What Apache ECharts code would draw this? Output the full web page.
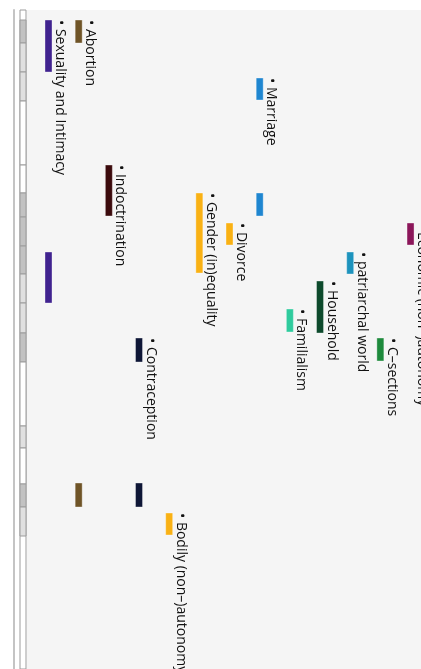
<!DOCTYPE html>
<html>
<head>
<meta charset="utf-8">
<script src="https://cdn.jsdelivr.net/npm/echarts@6/dist/echarts.min.js"></script>
<style>
  html, body { margin: 0; padding: 0; background: #fff; }
  #chart { width: 421px; height: 669px; }
</style>
</head>
<body>
<div id="chart"></div>
<script>
// codes, one lane each (left to right)
const codes = [
  "Sexuality and Intimacy",
  "Abortion",
  "Indoctrination",
  "Contraception",
  "Bodily (non–)autonomy",
  "Gender (in)equality",
  "Divorce",
  "Marriage",
  "Familialism",
  "Household",
  "patriarchal world",
  "C–sections",
  "Economic (non–)autonomy",
];
const codeColors = [
  "#40238f", "#6f5427", "#3b0a0c", "#0e1636", "#f9b114", "#f9b114",
  "#f9b114", "#1f86d0", "#2fcb9d", "#0d4a2c", "#1d93bd", "#1e8a3c", "#8b165a",
];
// coded passages: [lane, start, end] in document position
const passages = [
  [0, 10, 62], [0, 242, 293],
  [1, 10, 33], [1, 473, 497],
  [2, 155, 206],
  [3, 328, 352], [3, 473, 497],
  [4, 503, 525],
  [5, 183, 263],
  [6, 213, 235],
  [7, 68, 90], [7, 183, 206],
  [8, 299, 322],
  [9, 271, 323],
  [10, 242, 264],
  [11, 328, 351],
  [12, 213, 235],
];
// document overview strip: [start, end, shade level]
const segments = [
  [10, 33, 2], [33, 62, 1], [62, 91, 1], [91, 155, 0], [155, 183, 0],
  [183, 207, 2], [207, 236, 2], [236, 264, 2], [264, 293, 1], [293, 323, 1],
  [323, 352, 2], [352, 416, 0], [416, 438, 1], [438, 474, 0], [474, 497, 2],
  [497, 526, 1],
];
const shadeColors = ["#ffffff", "#e0e0e0", "#c2c2c2"];
const docLength = 659;

const chart = echarts.init(document.getElementById("chart"));

// first passage of each code gets the label
const labelled = new Set();
const barData = passages.map((p) => {
  const first = !labelled.has(p[0]);
  labelled.add(p[0]);
  return [p[0], p[1], p[2], first ? 1 : 0];
});

function renderPassage(params, api) {
  const lane = api.value(0);
  const top = api.coord([lane, api.value(1)]);
  const bottom = api.coord([lane, api.value(2)]);
  const w = 7;
  const children = [
    {
      type: "rect",
      shape: { x: top[0] - w / 2, y: top[1], width: w, height: bottom[1] - top[1] },
      style: { fill: codeColors[lane], stroke: "rgba(255,255,255,0.35)", lineWidth: 1 },
    },
  ];
  if (api.value(3)) {
    children.push({
      type: "text",
      x: top[0] + 11.5,
      y: top[1],
      rotation: -Math.PI / 2,
      style: {
        text: "• " + codes[lane],
        fill: "#111",
        font: '14px "Open Sans"',
        align: "left",
        verticalAlign: "middle",
      },
    });
  }
  return { type: "group", children };
}

function renderSegment(params, api) {
  const a = api.coord([0, api.value(0)]);
  const b = api.coord([1, api.value(1)]);
  return {
    type: "rect",
    shape: { x: a[0], y: a[1], width: b[0] - a[0], height: b[1] - a[1] },
    style: { fill: shadeColors[api.value(2)], stroke: "#9c9c9c", lineWidth: 1 },
  };
}

chart.setOption({
  animation: false,
  backgroundColor: "#fff",
  grid: [
    { left: 27, right: 0, top: 10, bottom: 0, show: true, backgroundColor: "#f5f5f5", borderWidth: 0 },
    { left: 20, width: 6, top: 10, bottom: 0, show: true, backgroundColor: "#fff", borderColor: "#9c9c9c", borderWidth: 1 },
  ],
  xAxis: [
    { type: "value", gridIndex: 0, min: -0.713, max: 12.347, show: false },
    { type: "value", gridIndex: 1, min: 0, max: 1, show: false },
  ],
  yAxis: [
    { type: "value", gridIndex: 0, min: 0, max: docLength, inverse: true, show: false },
    {
      type: "value", gridIndex: 1, min: 0, max: docLength, inverse: true, offset: 6,
      axisLine: { show: true, onZero: false, lineStyle: { color: "#c4c4c4", width: 2 } },
      axisTick: { show: false }, axisLabel: { show: false }, splitLine: { show: false },
    },
  ],
  series: [
    {
      type: "custom", xAxisIndex: 1, yAxisIndex: 1,
      renderItem: renderSegment, data: segments,
    },
    {
      type: "custom", xAxisIndex: 0, yAxisIndex: 0,
      renderItem: renderPassage, data: barData,
    },
  ],
});
</script>
</body>
</html>
